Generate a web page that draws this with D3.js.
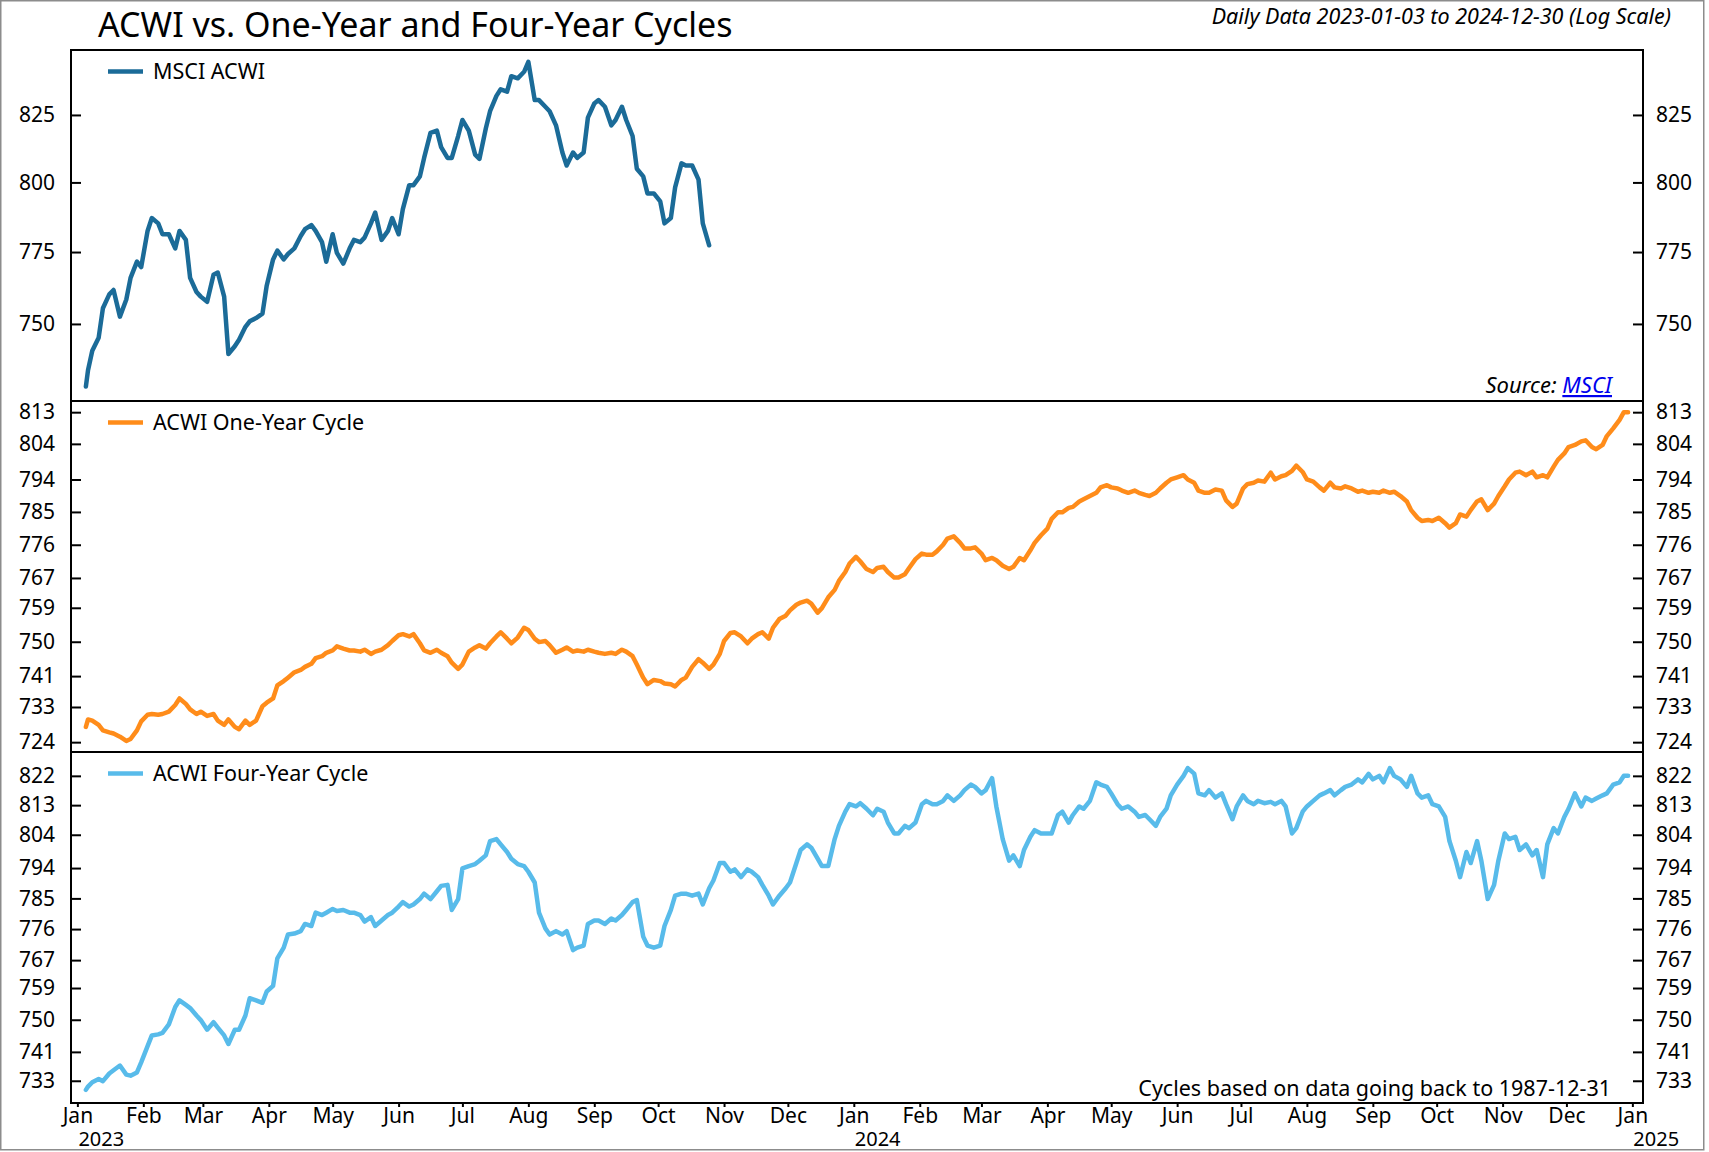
<!DOCTYPE html>
<html>
<head>
<meta charset="utf-8">
<script src="https://cdnjs.cloudflare.com/ajax/libs/d3/7.8.5/d3.min.js"></script>
<style>
  body { margin: 0; background: #fff; }
  text { font-family: "Noto Sans", sans-serif; fill: #000; }
</style>
</head>
<body>
<div id="chart"></div>
<script>
// sample dates, shared by all three series
var dates = [
  "2023-01-05","2023-01-06","2023-01-08","2023-01-11","2023-01-13","2023-01-16","2023-01-18","2023-01-21","2023-01-24","2023-01-26",
  "2023-01-29","2023-01-31","2023-02-03","2023-02-05","2023-02-08","2023-02-10","2023-02-13","2023-02-16","2023-02-18","2023-02-21",
  "2023-02-23","2023-02-26","2023-02-28","2023-03-03","2023-03-06","2023-03-08","2023-03-11","2023-03-13","2023-03-16","2023-03-18",
  "2023-03-21","2023-03-23","2023-03-26","2023-03-29","2023-03-31","2023-04-03","2023-04-05","2023-04-08","2023-04-10","2023-04-13",
  "2023-04-16","2023-04-18","2023-04-21","2023-04-23","2023-04-26","2023-04-28","2023-05-01","2023-05-03","2023-05-06","2023-05-09",
  "2023-05-11","2023-05-14","2023-05-16","2023-05-19","2023-05-21","2023-05-24","2023-05-27","2023-05-29","2023-06-01","2023-06-03",
  "2023-06-06","2023-06-08","2023-06-11","2023-06-13","2023-06-16","2023-06-19","2023-06-21","2023-06-24","2023-06-26","2023-06-29",
  "2023-07-01","2023-07-04","2023-07-07","2023-07-09","2023-07-12","2023-07-14","2023-07-17","2023-07-19","2023-07-22","2023-07-24",
  "2023-07-27","2023-07-30","2023-08-01","2023-08-04","2023-08-06","2023-08-09","2023-08-11","2023-08-14","2023-08-17","2023-08-19",
  "2023-08-22","2023-08-24","2023-08-27","2023-08-29","2023-09-01","2023-09-03","2023-09-06","2023-09-09","2023-09-11","2023-09-14",
  "2023-09-16","2023-09-19","2023-09-21","2023-09-24","2023-09-26","2023-09-29","2023-10-02","2023-10-04","2023-10-07","2023-10-09",
  "2023-10-12","2023-10-14","2023-10-17","2023-10-20","2023-10-22","2023-10-25","2023-10-27","2023-10-30","2023-11-01","2023-11-04",
  "2023-11-06","2023-11-09","2023-11-12","2023-11-14","2023-11-17","2023-11-19","2023-11-22","2023-11-24","2023-11-27","2023-11-30",
  "2023-12-02","2023-12-05","2023-12-07","2023-12-10","2023-12-12","2023-12-15","2023-12-17","2023-12-20","2023-12-23","2023-12-25",
  "2023-12-28","2023-12-30","2024-01-02","2024-01-04","2024-01-07","2024-01-10","2024-01-12","2024-01-15","2024-01-17","2024-01-20",
  "2024-01-22","2024-01-25","2024-01-27","2024-01-30","2024-02-02","2024-02-04","2024-02-07","2024-02-09","2024-02-12","2024-02-14",
  "2024-02-17","2024-02-20","2024-02-22","2024-02-25","2024-02-27","2024-03-01","2024-03-03","2024-03-06","2024-03-08","2024-03-11",
  "2024-03-14","2024-03-16","2024-03-19","2024-03-21","2024-03-24","2024-03-26","2024-03-29","2024-04-01","2024-04-03","2024-04-06",
  "2024-04-08","2024-04-11","2024-04-13","2024-04-16","2024-04-18","2024-04-21","2024-04-24","2024-04-26","2024-04-29","2024-05-01",
  "2024-05-04","2024-05-06","2024-05-09","2024-05-12","2024-05-14","2024-05-17","2024-05-19","2024-05-22","2024-05-24","2024-05-27",
  "2024-05-29","2024-06-01","2024-06-04","2024-06-06","2024-06-09","2024-06-11","2024-06-14","2024-06-16","2024-06-19","2024-06-22",
  "2024-06-24","2024-06-27","2024-06-29","2024-07-02","2024-07-04","2024-07-07","2024-07-09","2024-07-12","2024-07-15","2024-07-17",
  "2024-07-20","2024-07-22","2024-07-25","2024-07-27","2024-07-30","2024-08-01","2024-08-04","2024-08-07","2024-08-09","2024-08-12",
  "2024-08-14","2024-08-17","2024-08-19","2024-08-22","2024-08-25","2024-08-27","2024-08-30","2024-09-01","2024-09-04","2024-09-06",
  "2024-09-09","2024-09-11","2024-09-14","2024-09-17","2024-09-19","2024-09-22","2024-09-24","2024-09-27","2024-09-29","2024-10-02",
  "2024-10-05","2024-10-07","2024-10-10","2024-10-12","2024-10-15","2024-10-17","2024-10-20","2024-10-22","2024-10-25","2024-10-28",
  "2024-10-30","2024-11-02","2024-11-04","2024-11-07","2024-11-09","2024-11-12","2024-11-15","2024-11-17","2024-11-20","2024-11-22",
  "2024-11-25","2024-11-27","2024-11-30","2024-12-02","2024-12-05","2024-12-08","2024-12-10","2024-12-13","2024-12-15","2024-12-18",
  "2024-12-20","2024-12-23","2024-12-26","2024-12-28","2024-12-30"
];

// MSCI ACWI (only runs to late Oct 2023)
var acwiValues = [
  728.9,734.3,740.9,745.3,755.4,760.2,761.7,752.5,758.4,765.9,771.6,769.7,782.5,787.1,785.2,781.3,781.3,776.3,782.5,779.3,
  765.9,761.0,759.4,757.6,767.0,767.8,759.4,739.8,742.4,744.6,749.0,750.9,752.0,753.5,763.2,772.4,775.5,772.4,774.3,776.3,
  780.7,783.1,784.6,782.5,778.5,771.6,781.3,774.7,770.9,776.3,779.3,778.5,780.1,785.2,789.1,779.3,782.5,787.1,781.3,790.3,
  799.0,799.0,802.2,809.0,818.3,819.1,813.0,809.0,809.0,817.1,823.1,819.1,810.2,808.6,819.9,826.4,832.2,834.7,833.8,839.7,
  838.9,841.4,845.2,830.6,830.6,828.1,826.4,821.1,811.0,806.2,811.0,809.0,811.0,824.0,829.3,830.6,828.1,821.1,823.1,828.1,
  823.1,817.1,805.0,802.2,796.0,796.0,793.1,785.2,787.1,798.2,807.0,806.2,806.2,801.0,785.2,777.4
];

var oneYearValues = [
  727.9,729.8,729.5,728.4,727.0,726.5,726.2,725.4,724.3,724.8,727.0,729.3,731.0,731.2,731.0,731.2,731.8,733.5,735.2,733.8,
  732.4,731.2,731.8,730.7,731.2,729.5,728.4,729.8,727.9,727.3,729.5,728.4,729.5,733.2,734.1,735.2,738.6,739.7,740.6,742.0,
  742.6,743.4,744.2,745.7,746.2,747.1,747.7,748.8,748.2,747.7,747.7,747.4,747.9,746.8,747.4,747.9,749.1,750.2,751.7,752.0,
  751.4,752.0,749.6,747.7,747.1,747.9,747.1,746.2,744.5,742.9,744.0,747.4,748.5,749.1,748.2,749.6,751.4,752.5,750.8,749.6,
  751.1,753.7,753.1,750.8,749.9,750.2,749.1,747.1,747.9,748.5,747.4,747.7,747.4,747.9,747.4,747.1,746.8,747.1,746.8,747.9,
  747.4,746.2,744.0,740.6,738.9,740.0,739.7,739.1,738.9,738.3,740.0,740.6,743.4,745.4,744.5,742.9,744.0,746.8,750.2,752.3,
  752.5,751.4,749.6,750.8,752.0,752.5,750.8,753.7,756.0,756.9,758.3,759.8,760.4,760.9,760.1,757.7,758.9,761.8,763.8,766.2,
  768.6,770.9,772.7,771.5,769.4,768.6,769.7,770.0,768.6,767.1,767.1,768.0,769.7,772.1,773.6,773.3,773.3,774.2,776.0,777.7,
  778.3,776.5,775.0,775.0,775.3,773.6,771.8,772.4,771.8,770.3,769.4,770.0,772.4,771.8,774.5,776.5,778.6,780.4,783.1,784.9,
  784.9,786.1,786.4,787.9,788.5,789.4,790.3,791.8,792.4,791.8,791.5,790.9,790.3,790.9,790.3,789.7,789.4,790.3,791.5,793.1,
  794.0,794.6,795.2,794.0,793.1,790.9,790.3,790.3,791.2,790.9,788.2,786.4,787.3,791.5,792.7,793.1,793.7,793.4,795.9,794.0,
  794.9,795.2,796.4,797.9,796.1,794.0,793.4,791.8,790.9,793.1,791.8,791.5,792.1,791.5,790.6,790.9,790.3,790.6,790.3,790.9,
  790.3,790.6,789.4,787.9,785.5,783.4,782.5,782.8,782.5,783.4,781.9,780.7,781.9,784.3,783.7,785.5,787.9,788.5,785.5,787.3,
  789.4,792.1,794.0,795.9,796.2,795.2,796.2,794.6,795.2,794.6,797.6,799.5,801.3,803.1,803.7,804.7,805.0,803.1,802.5,803.7,
  806.2,808.4,810.8,813.0,813.0
];

var fourYearValues = [
  730.5,731.4,732.6,733.5,732.9,735.0,735.9,737.2,734.7,734.4,735.3,738.1,742.6,745.6,745.9,746.3,748.7,753.6,755.5,754.2,
  753.3,751.2,749.9,747.2,749.3,747.8,745.6,743.2,747.2,747.2,751.2,756.1,755.5,754.8,758.0,759.6,767.5,770.6,774.4,774.7,
  775.4,777.5,776.9,780.8,780.1,780.8,781.9,781.3,781.6,780.8,780.8,780.1,778.2,779.5,776.9,778.5,780.1,780.8,782.6,783.9,
  782.6,783.2,784.8,786.4,784.8,787.1,788.7,789.0,781.6,784.8,793.9,794.6,795.2,796.2,797.8,802.1,802.7,801.1,798.8,796.8,
  795.2,794.6,792.9,789.7,780.8,776.2,774.4,775.4,774.4,775.4,769.9,770.6,771.2,777.5,778.5,778.5,777.5,779.1,778.5,780.1,
  781.6,783.9,784.5,773.8,771.2,770.6,771.2,776.9,781.6,785.8,786.4,786.4,785.8,786.4,783.2,788.0,790.3,795.5,795.5,792.9,
  793.6,791.3,793.6,792.9,791.3,789.0,785.8,783.2,785.8,788.0,789.7,795.5,799.4,801.1,800.1,796.8,794.6,794.6,802.7,806.7,
  811.0,813.3,812.6,813.6,811.9,809.9,811.9,811.0,807.7,804.4,804.4,806.7,806.0,807.7,813.3,814.3,813.3,813.3,814.3,816.0,
  814.3,816.0,817.6,819.3,818.6,816.6,817.6,821.3,812.6,802.7,796.2,797.8,794.6,799.4,803.4,805.4,804.4,804.4,804.4,810.0,
  811.0,807.7,810.0,812.6,811.9,814.3,820.0,819.3,818.6,816.6,813.3,811.9,812.6,811.0,809.4,810.0,808.7,806.7,809.4,811.9,
  816.0,819.3,822.0,824.4,822.7,816.6,816.0,817.6,815.3,816.6,813.3,808.7,812.6,816.0,814.3,813.3,814.3,813.6,814.0,813.3,
  814.3,812.6,804.4,806.0,811.0,812.6,814.3,816.0,816.6,817.6,816.0,817.6,818.6,819.3,820.9,820.0,822.6,820.9,822.0,820.0,
  824.4,822.0,820.9,818.6,822.0,816.6,815.3,816.0,813.3,812.6,809.4,802.1,796.2,791.3,798.8,795.5,802.1,796.2,784.8,789.0,
  796.2,804.4,802.7,803.4,799.4,801.1,797.8,799.4,791.3,801.1,806.0,804.4,809.4,811.9,816.6,812.6,815.3,814.3,815.0,816.0,
  816.6,819.3,820.0,822.0,822.0
];

var acwiTicks = [750, 775, 800, 825];
var oneYearTicks = [724, 733, 741, 750, 759, 767, 776, 785, 794, 804, 813];
var fourYearTicks = [733, 741, 750, 759, 767, 776, 785, 794, 804, 813, 822];
var monthLabels = ["Jan","Feb","Mar","Apr","May","Jun","Jul","Aug","Sep","Oct","Nov","Dec"];
var yearLabels = ["2023", "2024", "2025"];

var W = 1709, H = 1152;
var left = 71, right = 1643;
var parseDate = d3.utcParse("%Y-%m-%d");

var x = d3.scaleUtc()
  .domain([parseDate("2022-12-29"), parseDate("2025-01-06")])
  .range([left, right]);

var panels = [
  { label: "MSCI ACWI", values: acwiValues, ticks: acwiTicks, domain: [724.1, 849.8], top: 50, bottom: 401, color: "#1b6b98" },
  { label: "ACWI One-Year Cycle", values: oneYearValues, ticks: oneYearTicks, domain: [721.5, 816.2], top: 401, bottom: 752, color: "#ff8c1a" },
  { label: "ACWI Four-Year Cycle", values: fourYearValues, ticks: fourYearTicks, domain: [726.9, 829.4], top: 752, bottom: 1103, color: "#58bbea" }
];

var svg = d3.select("#chart")
  .append("svg")
  .attr("width", W)
  .attr("height", H);

// outer frame
svg.append("rect")
  .attr("x", 0.75).attr("y", 0.75)
  .attr("width", 1703).attr("height", 1149)
  .attr("fill", "none")
  .attr("stroke", "#8c8c8c")
  .attr("stroke-width", 1.5);

svg.append("text")
  .attr("x", 98).attr("y", 37)
  .attr("font-size", 34)
  .text("ACWI vs. One-Year and Four-Year Cycles");

svg.append("text")
  .attr("x", 1671).attr("y", 24)
  .attr("text-anchor", "end")
  .attr("font-size", 21.5)
  .attr("font-style", "italic")
  .text("Daily Data 2023-01-03 to 2024-12-30 (Log Scale)");

panels.forEach(function(p) {
  var y = d3.scaleLog().domain(p.domain).range([p.bottom, p.top]);
  var g = svg.append("g");

  // series line
  var pts = p.values.map(function(v, i) { return { date: parseDate(dates[i]), value: v }; });
  var line = d3.line()
    .x(function(d) { return x(d.date); })
    .y(function(d) { return y(d.value); });
  g.append("path")
    .datum(pts)
    .attr("d", line)
    .attr("fill", "none")
    .attr("stroke", p.color)
    .attr("stroke-width", 4.5)
    .attr("stroke-linejoin", "round")
    .attr("stroke-linecap", "round");

  // left + right axes, ticks pointing inwards
  var la = g.append("g")
    .attr("transform", "translate(" + left + ",0)")
    .call(d3.axisLeft(y).tickValues(p.ticks).tickSize(-10).tickPadding(16).tickFormat(d3.format("d")));
  var ra = g.append("g")
    .attr("transform", "translate(" + right + ",0)")
    .call(d3.axisRight(y).tickValues(p.ticks).tickSize(-10).tickPadding(13).tickFormat(d3.format("d")));
  [la, ra].forEach(function(a) {
    a.select(".domain").remove();
    a.selectAll(".tick line").attr("stroke", "#000").attr("stroke-width", 2);
    a.selectAll(".tick text").attr("font-size", 21).attr("font-family", "Noto Sans").attr("fill", "#000");
  });

  // panel frame
  g.append("rect")
    .attr("x", left).attr("y", p.top)
    .attr("width", right - left).attr("height", p.bottom - p.top)
    .attr("fill", "none")
    .attr("stroke", "#000")
    .attr("stroke-width", 2);

  // legend
  g.append("line")
    .attr("x1", 108).attr("x2", 143)
    .attr("y1", p.top + 21.5).attr("y2", p.top + 21.5)
    .attr("stroke", p.color)
    .attr("stroke-width", 4.5);
  g.append("text")
    .attr("x", 153).attr("y", p.top + 29)
    .attr("font-size", 21.5)
    .text(p.label);
});

// source note in top panel
var src = svg.append("text")
  .attr("x", 1612).attr("y", 393)
  .attr("text-anchor", "end")
  .attr("font-size", 22)
  .attr("font-style", "italic");
src.append("tspan").text("Source: ");
src.append("tspan")
  .attr("fill", "#0000ee")
  .style("fill", "#0000ee")
  .attr("text-decoration", "underline")
  .text("MSCI");

svg.append("text")
  .attr("x", 1611).attr("y", 1096)
  .attr("text-anchor", "end")
  .attr("font-size", 21.5)
  .text("Cycles based on data going back to 1987-12-31");

// x axis with month ticks
var months = d3.utcMonth.range(parseDate("2023-01-01"), parseDate("2025-01-02"));
var xa = svg.append("g")
  .attr("transform", "translate(0,1103)")
  .call(d3.axisBottom(x).tickValues(months).tickSize(4).tickPadding(1)
    .tickFormat(function(d) { return monthLabels[d.getUTCMonth()]; }));
xa.select(".domain").remove();
xa.selectAll(".tick line").attr("stroke", "#000").attr("stroke-width", 2);
xa.selectAll(".tick text").attr("font-size", 21).attr("font-family", "Noto Sans").attr("fill", "#000");

var jans = months.filter(function(d) { return d.getUTCMonth() === 0; });
svg.selectAll("text.year")
  .data(jans)
  .enter()
  .append("text")
  .attr("class", "year")
  .attr("x", function(d) { return x(d) + 1; })
  .attr("y", 1146)
  .attr("font-size", 20)
  .text(function(d, i) { return yearLabels[i]; });
</script>
</body>
</html>
